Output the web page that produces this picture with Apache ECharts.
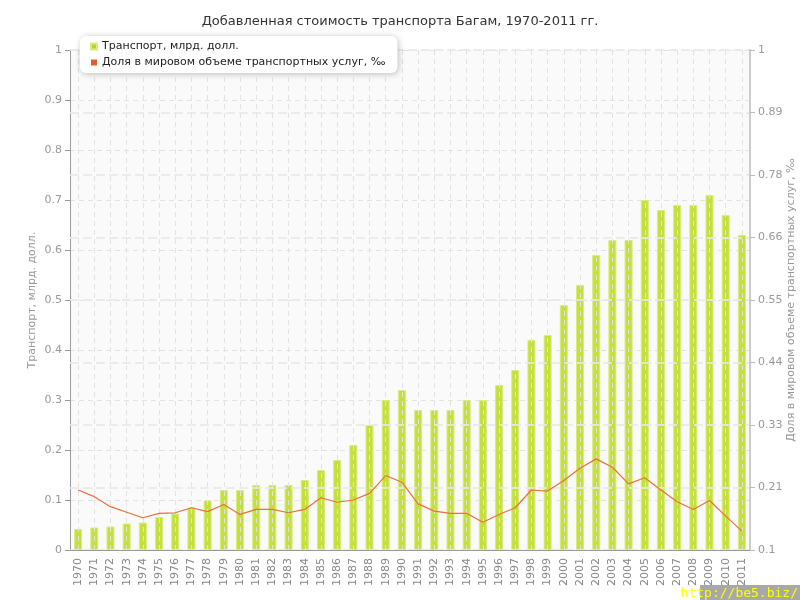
<!DOCTYPE html>
<html>
<head>
<meta charset="utf-8">
<script src="https://cdn.jsdelivr.net/npm/echarts@6/dist/echarts.min.js"></script>
<style>html,body{margin:0;padding:0;background:#fff}#c{width:800px;height:600px}</style>
</head>
<body>
<div id="c"></div>
<script>
var years = ['1970','1971','1972','1973','1974','1975','1976','1977','1978','1979','1980','1981','1982','1983','1984','1985','1986','1987','1988','1989','1990','1991','1992','1993','1994','1995','1996','1997','1998','1999','2000','2001','2002','2003','2004','2005','2006','2007','2008','2009','2010','2011'];
var transport = [0.042,0.045,0.047,0.053,0.055,0.066,0.073,0.085,0.099,0.12,0.12,0.13,0.13,0.13,0.14,0.16,0.18,0.21,0.25,0.30,0.32,0.28,0.28,0.28,0.30,0.30,0.33,0.36,0.42,0.43,0.49,0.53,0.59,0.62,0.62,0.70,0.68,0.69,0.69,0.71,0.67,0.63];
var share = [0.208,0.196,0.178,0.168,0.158,0.166,0.167,0.176,0.169,0.182,0.164,0.173,0.173,0.167,0.173,0.194,0.186,0.190,0.202,0.234,0.222,0.183,0.170,0.166,0.166,0.150,0.164,0.176,0.208,0.206,0.225,0.247,0.264,0.249,0.219,0.230,0.208,0.187,0.173,0.189,0.161,0.134];
var seriesNames = ['Транспорт, млрд. долл.', 'Доля в мировом объеме транспортных услуг, ‰'];
var titleText = 'Добавленная стоимость транспорта Багам, 1970-2011 гг.';
var leftAxisName = 'Транспорт, млрд. долл.';
var rightAxisName = 'Доля в мировом объеме транспортных услуг, ‰';

var chart = echarts.init(document.getElementById('c'), null, {renderer: 'canvas'});
var font = 'DejaVu Sans';
chart.setOption({
  animation: false,
  backgroundColor: '#ffffff',
  textStyle: {fontFamily: font},
  title: {
    text: titleText, left: 'center', top: 10,
    textStyle: {fontFamily: font, fontSize: 13, fontWeight: 'normal', color: '#333'}
  },
  legend: {
    orient: 'vertical', left: 80, top: 36,
    padding: [5, 12, 5, 10],
    backgroundColor: '#fff', borderRadius: 6,
    shadowBlur: 6, shadowColor: 'rgba(0,0,0,0.25)', shadowOffsetX: 1, shadowOffsetY: 1,
    itemGap: 5, itemWidth: 6, itemHeight: 6, icon: 'rect',
    textStyle: {fontFamily: font, fontSize: 11, color: '#222'},
    data: [
      {name: seriesNames[0], itemStyle: {color: '#b5d334'}},
      {name: seriesNames[1], itemStyle: {color: '#e0602a'}}
    ]
  },
  grid: {left: 70, right: 50, top: 50, bottom: 50, outerBoundsMode: 'none', containLabel: false,
         show: true, backgroundColor: '#fafafa', borderWidth: 0},
  xAxis: {
    type: 'category', data: years, boundaryGap: true, z: 3,
    axisLine: {lineStyle: {color: '#999'}},
    axisTick: {alignWithLabel: true, length: 5, lineStyle: {color: '#999'}},
    axisLabel: {rotate: 90, fontSize: 11, color: '#888', margin: 8, interval: 0, fontFamily: font},
    splitLine: {show: true, interval: 0, alignWithLabel: true, lineStyle: {color: '#e2e2e2', type: [5, 4]}}
  },
  yAxis: [
    {
      type: 'value', min: 0, max: 1, interval: 0.1,
      name: leftAxisName, nameLocation: 'middle', nameGap: 32, nameMoveOverlap: false,
      nameTextStyle: {color: '#999', fontSize: 11, fontFamily: font},
      axisLine: {show: true, lineStyle: {color: '#999'}},
      axisTick: {show: true, length: 5, lineStyle: {color: '#999'}},
      axisLabel: {color: '#999', fontSize: 11, margin: 8, fontFamily: font},
      splitLine: {show: true, lineStyle: {color: '#e2e2e2', type: [5, 4]}}
    },
    {
      type: 'value', min: 0.1, max: 1, interval: 0.1125, z: 3,
      name: rightAxisName, nameLocation: 'middle', nameGap: 36, nameRotate: 90, nameMoveOverlap: false,
      nameTextStyle: {color: '#999', fontSize: 11, fontFamily: font},
      axisLine: {show: true, lineStyle: {color: '#ccc', width: 2}},
      axisTick: {show: true, length: 5, lineStyle: {color: '#bbb'}},
      axisLabel: {color: '#999', fontSize: 11, margin: 8, fontFamily: font,
        formatter: function (v) { return String(parseFloat(v.toFixed(2))); }},
      splitLine: {show: true, lineStyle: {color: 'rgba(232,232,232,0.85)', width: 2, type: [9, 4]}}
    }
  ],
  series: [
    {
      name: seriesNames[0], type: 'bar', yAxisIndex: 0, data: transport,
      barWidth: 8, z: 2,
      itemStyle: {color: '#c5e03c', borderColor: '#d9ec82', borderWidth: 1}
    },
    {
      name: seriesNames[1], type: 'line', yAxisIndex: 1, data: share,
      z: 10, symbol: 'none', smooth: false,
      lineStyle: {color: '#e8703a', width: 1.2},
      itemStyle: {color: '#e0602a'}
    }
  ],
  graphic: [
    {type: 'rect', right: 0, bottom: 0, shape: {width: 100, height: 15}, style: {fill: '#a8a8a8'}, z: 100},
    {type: 'text', right: 2, bottom: 0, z: 101,
     style: {text: 'http://be5.biz/', fill: '#ffff00', font: '13px "DejaVu Sans Mono"'}}
  ]
});
</script>
</body>
</html>
